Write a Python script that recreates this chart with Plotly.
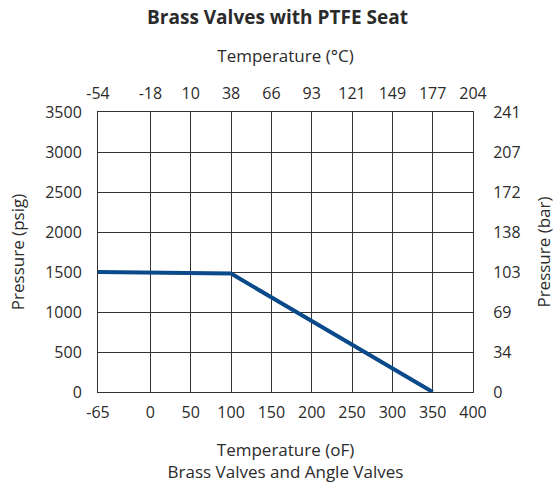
import plotly.graph_objects as go

# Pressure/temperature rating curve
temp_f = [-65, 100, 350]
pressure_psig = [1500, 1480, 0]

# Axis tick definitions
f_ticks = [-65, 0, 50, 100, 150, 200, 250, 300, 350, 400]
c_labels = ["-54", "-18", "10", "38", "66", "93", "121", "149", "177", "204"]
psig_ticks = [0, 500, 1000, 1500, 2000, 2500, 3000, 3500]
bar_labels = ["0", "34", "69", "103", "138", "172", "207", "241"]

FONT = "Open Sans, Noto Sans, sans-serif"
TXT = "#2b2b2b"
GRID = "#333333"
TICK_FONT = dict(family=FONT, size=16, color=TXT)
TITLE_FONT = dict(family=FONT, size=17, color=TXT)

fig = go.Figure()
fig.add_trace(go.Scatter(
    x=temp_f, y=pressure_psig, mode="lines",
    line=dict(color="#0b4a8a", width=4),
    showlegend=False, hoverinfo="skip",
))
# companion trace so the secondary axes render
fig.add_trace(go.Scatter(
    x=temp_f, y=pressure_psig, xaxis="x2", yaxis="y2", mode="lines",
    line=dict(width=0), opacity=0, showlegend=False, hoverinfo="skip",
))

axis_common = dict(
    showgrid=True, gridcolor=GRID, gridwidth=1,
    showline=True, linecolor=GRID, linewidth=1,
    ticks="", zeroline=False, automargin=False,
    tickfont=TICK_FONT,
)

fig.update_layout(
    width=555, height=488,
    margin=dict(l=98, r=82, t=112, b=96),
    paper_bgcolor="white", plot_bgcolor="white",
    font=dict(family=FONT, color=TXT),
    title=dict(text="<b>Brass Valves with PTFE Seat</b>", x=0.5, xanchor="center",
               y=1 - 17 / 488, yanchor="middle",
               font=dict(family=FONT, size=19, color=TXT)),
    xaxis=dict(range=[-65, 400], tickvals=f_ticks, ticktext=[str(v) for v in f_ticks],
               ticklabelstandoff=6,
               title=dict(text="Temperature (oF)<br>Brass Valves and Angle Valves",
                          font=TITLE_FONT, standoff=21),
               **axis_common),
    xaxis2=dict(range=[-65, 400], tickvals=f_ticks, ticktext=c_labels,
                overlaying="x", side="top", anchor="y", ticklabelstandoff=6,
                title=dict(text="Temperature (°C)", font=TITLE_FONT, standoff=14),
                **axis_common),
    yaxis=dict(range=[0, 3500], tickvals=psig_ticks, ticktext=[str(v) for v in psig_ticks],
               ticklabelstandoff=12,
               title=dict(text="Pressure (psig)", font=TITLE_FONT, standoff=16),
               **axis_common),
    yaxis2=dict(range=[0, 3500], tickvals=psig_ticks, ticktext=bar_labels,
                overlaying="y", side="right", anchor="x", ticklabelstandoff=16,
                title=dict(text="Pressure (bar)", font=TITLE_FONT, standoff=18),
                **axis_common),
)

fig.write_html("out.html")
